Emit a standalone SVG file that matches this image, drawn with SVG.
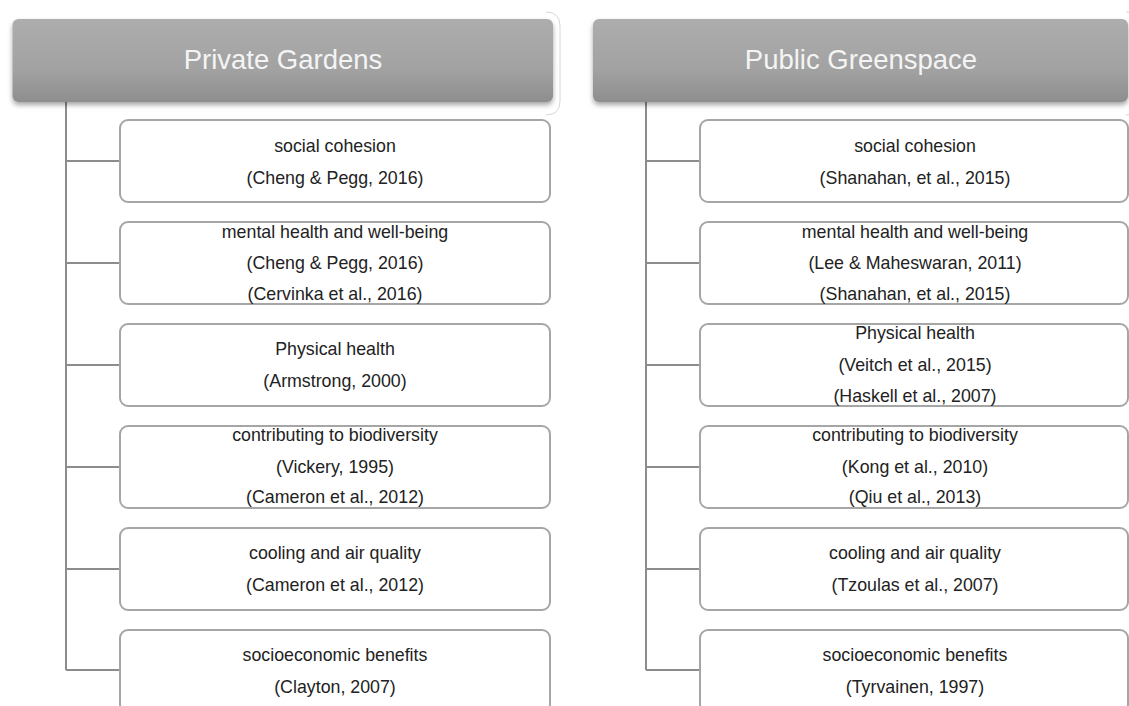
<svg xmlns="http://www.w3.org/2000/svg" width="1129" height="706" viewBox="0 0 1129 706">
<defs>
<linearGradient id="hg" x1="0" y1="0" x2="0" y2="1">
<stop offset="0" stop-color="#adadad"/>
<stop offset="0.6" stop-color="#a2a2a2"/>
<stop offset="1" stop-color="#8e8e8e"/>
</linearGradient>
<filter id="sh" x="-5%" y="-20%" width="110%" height="150%">
<feDropShadow dx="0" dy="3" stdDeviation="2.5" flood-color="#000" flood-opacity="0.35"/>
</filter>
</defs>
<style>
.hdr{fill:url(#hg);filter:url(#sh)}
.ht{font-family:"Liberation Sans",Arial,sans-serif;font-size:27.5px;fill:#f4f4f4;text-anchor:middle}
.out{fill:none;stroke:#d6d6d6;stroke-width:1}
.box{fill:#fff;stroke:#a6a6a6;stroke-width:2}
.t{font-family:"Liberation Sans",Arial,sans-serif;font-size:17.8px;fill:#222;text-anchor:middle}
.con{fill:none;stroke:#8c8c8c;stroke-width:2}
</style>
<rect width="1129" height="706" fill="#fff"/>

<g id="connectors">
<path class="con" d="M66,102 V670 M66,161 H120 M66,263 H120 M66,365 H120 M66,467 H120 M66,569 H120 M66,670 H120"/>
<path class="con" d="M646,102 V670 M646,161 H700 M646,263 H700 M646,365 H700 M646,467 H700 M646,569 H700 M646,670 H700"/>
</g>

<g id="private-gardens">
<path class="out" d="M546,12 Q560,12 560,26 V101 Q560,115 546,115"/>
<rect class="hdr" x="12.5" y="19" width="540.5" height="83" rx="6"/>
<text class="ht" x="283" y="68.5">Private Gardens</text>
</g>
<g id="public-greenspace">
<path class="out" d="M1126,12 Q1140,12 1140,26 V101 Q1140,115 1126,115"/>
<rect class="hdr" x="593" y="19" width="535" height="83" rx="6"/>
<text class="ht" x="861" y="68.5">Public Greenspace</text>
</g>

<g id="pg-social">
<rect class="box" x="120" y="120" width="430" height="82" rx="8"/>
<text class="t" x="335" y="152">social cohesion</text>
<text class="t" x="335" y="184">(Cheng &amp; Pegg, 2016)</text>
</g>
<g id="pg-mental">
<rect class="box" x="120" y="222" width="430" height="82" rx="8"/>
<text class="t" x="335" y="238">mental health and well-being</text>
<text class="t" x="335" y="269">(Cheng &amp; Pegg, 2016)</text>
<text class="t" x="335" y="300">(Cervinka et al., 2016)</text>
</g>
<g id="pg-physical">
<rect class="box" x="120" y="324" width="430" height="82" rx="8"/>
<text class="t" x="335" y="355">Physical health</text>
<text class="t" x="335" y="387">(Armstrong, 2000)</text>
</g>
<g id="pg-biodiversity">
<rect class="box" x="120" y="426" width="430" height="82" rx="8"/>
<text class="t" x="335" y="441">contributing to biodiversity</text>
<text class="t" x="335" y="473">(Vickery, 1995)</text>
<text class="t" x="335" y="503">(Cameron et al., 2012)</text>
</g>
<g id="pg-cooling">
<rect class="box" x="120" y="528" width="430" height="82" rx="8"/>
<text class="t" x="335" y="559">cooling and air quality</text>
<text class="t" x="335" y="591">(Cameron et al., 2012)</text>
</g>
<g id="pg-socioeconomic">
<rect class="box" x="120" y="630" width="430" height="82" rx="8"/>
<text class="t" x="335" y="661">socioeconomic benefits</text>
<text class="t" x="335" y="693">(Clayton, 2007)</text>
</g>

<g id="pub-social">
<rect class="box" x="700" y="120" width="428" height="82" rx="8"/>
<text class="t" x="915" y="152">social cohesion</text>
<text class="t" x="915" y="184">(Shanahan, et al., 2015)</text>
</g>
<g id="pub-mental">
<rect class="box" x="700" y="222" width="428" height="82" rx="8"/>
<text class="t" x="915" y="238">mental health and well-being</text>
<text class="t" x="915" y="269">(Lee &amp; Maheswaran, 2011)</text>
<text class="t" x="915" y="300">(Shanahan, et al., 2015)</text>
</g>
<g id="pub-physical">
<rect class="box" x="700" y="324" width="428" height="82" rx="8"/>
<text class="t" x="915" y="339">Physical health</text>
<text class="t" x="915" y="371">(Veitch et al., 2015)</text>
<text class="t" x="915" y="402">(Haskell et al., 2007)</text>
</g>
<g id="pub-biodiversity">
<rect class="box" x="700" y="426" width="428" height="82" rx="8"/>
<text class="t" x="915" y="441">contributing to biodiversity</text>
<text class="t" x="915" y="473">(Kong et al., 2010)</text>
<text class="t" x="915" y="503">(Qiu et al., 2013)</text>
</g>
<g id="pub-cooling">
<rect class="box" x="700" y="528" width="428" height="82" rx="8"/>
<text class="t" x="915" y="559">cooling and air quality</text>
<text class="t" x="915" y="591">(Tzoulas et al., 2007)</text>
</g>
<g id="pub-socioeconomic">
<rect class="box" x="700" y="630" width="428" height="82" rx="8"/>
<text class="t" x="915" y="661">socioeconomic benefits</text>
<text class="t" x="915" y="693">(Tyrvainen, 1997)</text>
</g>
</svg>
